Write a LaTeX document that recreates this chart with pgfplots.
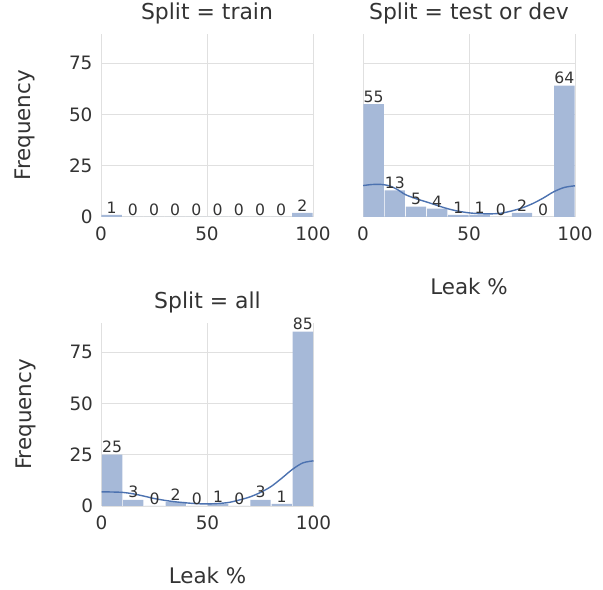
\documentclass[border=0pt]{standalone}
\usepackage{fontspec}
\setmainfont{DejaVu Sans}
\usepackage{pgfplots}
\pgfplotsset{compat=1.18}
\definecolor{barblue}{HTML}{A6B9D8}
\definecolor{linblue}{HTML}{4C72B0}
\definecolor{gridgray}{HTML}{E0E0E0}
\definecolor{txt}{HTML}{333333}
\pgfplotsset{
  facet/.style={
    scale only axis, width=212bp, height=183bp,
    anchor=south west,
    xmin=0, xmax=100, ymin=0, ymax=89.25,
    xtick={0,50,100}, ytick={0,25,50,75},
    axis line style={draw=none},
    major tick length=0pt,
    grid=major, grid style={color=gridgray, line width=0.9bp},
    /pgf/number format/assume math mode=true,
    ticklabel style={font=\fontsize{18.5}{20}\selectfont, text=txt},
    yticklabel style={xshift=-5bp},
    xticklabel style={yshift=-6bp},
    title style={at={(axis description cs:0.5,1)}, anchor=base, yshift=8bp,
      font=\fontsize{22}{24}\selectfont, text=txt},
    every axis y label/.style={at={(axis description cs:0,0.5)}, xshift=-76bp, rotate=90, anchor=center,
      font=\fontsize{21.5}{24}\selectfont, text=txt},
    every axis x label/.style={at={(axis description cs:0.5,0)}, yshift=-70bp, anchor=center,
      font=\fontsize{21.5}{24}\selectfont, text=txt},
  },
  bars/.style={ybar, bar width=9.6, fill=barblue, draw=none, bar shift=0pt,
    nodes near coords,
    every node near coord/.append style={anchor=south, inner sep=1.5bp,
      font=\fontsize{15.7}{17}\selectfont, text=txt}},
  kde/.style={linblue, line width=1.4bp, smooth, no marks},
}
\begin{document}
\begin{tikzpicture}
\path (0bp,0bp) rectangle (603bp,588bp);
% top-left: train
\begin{axis}[facet, at={(101bp,373bp)}, title={Split = train}, ylabel={Frequency}]
\addplot[bars] coordinates {(5,1) (15,0) (25,0) (35,0) (45,0) (55,0) (65,0) (75,0) (85,0) (95,2)};
\end{axis}
% top-right: test or dev
\begin{axis}[facet, at={(363bp,373bp)}, title={Split = test or dev}, yticklabels={}, xlabel={Leak \%}]
\addplot[bars] coordinates {(5,55) (15,13) (25,5) (35,4) (45,1) (55,1) (65,0) (75,2) (85,0) (95,64)};
\addplot[kde] coordinates {(0,15.3) (4,15.8) (8,15.9) (12,15.3) (16,13.5) (20,10.9) (25,8.9) (30,7.3) (35,5.6) (40,4.0) (45,2.8) (50,2.0) (55,1.6) (60,1.5) (65,1.8) (70,2.9) (75,4.4) (80,6.5) (85,9.2) (90,12.3) (95,14.4) (100,15.2)};
\end{axis}
% bottom-left: all
\begin{axis}[facet, at={(101.5bp,84bp)}, title={Split = all}, ylabel={Frequency}, xlabel={Leak \%}]
\addplot[bars] coordinates {(5,25) (15,3) (25,0) (35,2) (45,0) (55,1) (65,0) (75,3) (85,1) (95,85)};
\addplot[kde] coordinates {(0,6.9) (5,6.8) (10,6.6) (15,5.9) (20,4.8) (25,3.6) (30,2.7) (35,2.0) (40,1.5) (45,1.1) (50,1.0) (55,1.2) (60,1.7) (65,2.9) (70,4.4) (75,6.6) (80,9.5) (85,13.5) (90,17.8) (95,21.0) (100,22.0)};
\end{axis}
\end{tikzpicture}
\end{document}
